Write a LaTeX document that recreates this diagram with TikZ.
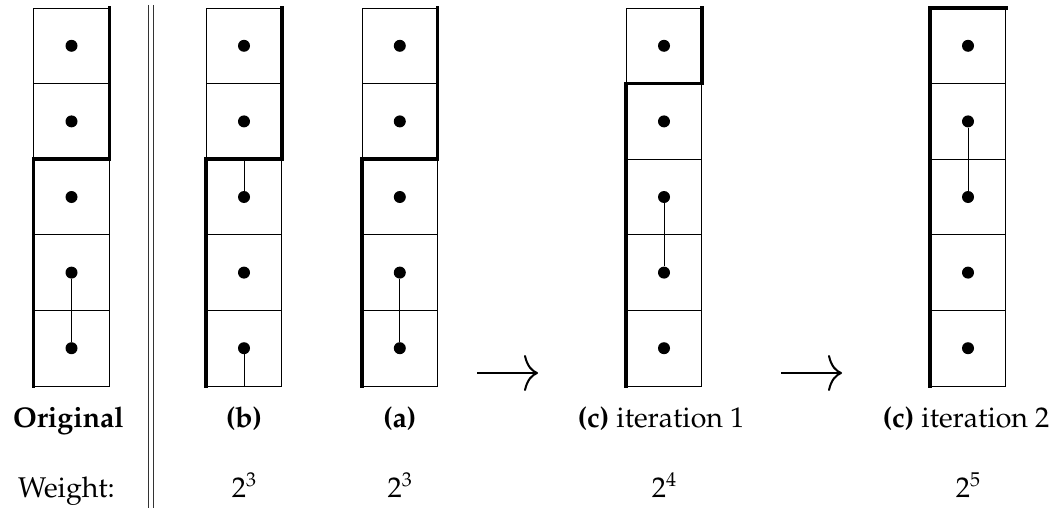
\documentclass[tikz,border=0pt]{standalone}
\usepackage[T1]{fontenc}
\usepackage{mathpazo}
\usetikzlibrary{arrows.meta}
\newcommand{\pw}[1]{2\raisebox{0.36em}{\fontsize{20}{24}\selectfont #1}}
\begin{document}
\begin{tikzpicture}[x=1pt,y=-1pt,
  cell/.style={draw,line width=0.9pt,minimum size=75.6pt,inner sep=0pt,outer sep=0pt},
  dot/.style={circle,fill,inner sep=0pt,minimum size=12pt},
  link/.style={line width=0.9pt},
  border/.style={line width=3.5pt,line cap=rect,line join=miter},
  sep/.style={line width=0.8pt,black!80},
  bigarrow/.style={line width=2pt,-{To[length=14pt,width=36pt]}},
  lab/.style={font=\fontsize{28.5}{34}\selectfont,inner sep=0pt,anchor=base}]
\useasboundingbox (0,0) rectangle (1062,508);
\foreach \n/\x in {o/71.5,b/244,a/399.8,c/664,d/968}{
  \foreach \i in {1,...,5}{
    \node[cell] (\n\i) at (\x,{8+75.6*(\i-0.5)}) {};
    \node[dot] (\n d\i) at (\n\i.center) {};
  }
}
% thick borders
\draw[border] (o1.north east) -- (o2.south east) -- (o3.north west) -- (o5.south west);
\draw[border] (b1.north east) -- (b2.south east) -- (b3.north west) -- (b5.south west);
\draw[border] (a1.north east) -- (a2.south east) -- (a3.north west) -- (a5.south west);
\draw[border] (c1.north east) -- (c1.south east) -- (c2.north west) -- (c5.south west);
\draw[border] (d1.north east) -- (d1.north west) -- (d5.south west);
% links
\draw[link] (od4) -- (od5);
\draw[link] (b3.north) -- (bd3);
\draw[link] (bd5) -- (b5.south);
\draw[link] (ad4) -- (ad5);
\draw[link] (cd3) -- (cd4);
\draw[link] (dd2) -- (dd3);
% separator
\coordinate (s1t) at (148,5); \coordinate (s1b) at (148,508);
\coordinate (s2t) at (153,5); \coordinate (s2b) at (153,508);
\draw[sep] (s1t) -- (s1b);
\draw[sep] (s2t) -- (s2b);
% arrows
\coordinate (a1s) at (477,373); \coordinate (a1e) at (538,373);
\coordinate (a2s) at (781,373); \coordinate (a2e) at (842,373);
\draw[bigarrow] (a1s) -- (a1e);
\draw[bigarrow] (a2s) -- (a2e);
% labels
\node[lab] (lo) at (68.5,427) {\textbf{Original}};
\node[lab] (lb) at (244,427) {\textbf{(b)}};
\node[lab] (la) at (399.8,427) {\textbf{(a)}};
\node[lab] (lc) at (661,427) {\textbf{(c)} iteration 1};
\node[lab] (ld) at (966,427) {\textbf{(c)} iteration 2};
\node[lab] (wt) at (66.5,497) {Weight:};
\node[lab] (wb) at (244,497) {\pw{3}};
\node[lab] (wa) at (399.8,497) {\pw{3}};
\node[lab] (wc) at (664,497) {\pw{4}};
\node[lab] (wd) at (968,497) {\pw{5}};
\end{tikzpicture}
\end{document}
